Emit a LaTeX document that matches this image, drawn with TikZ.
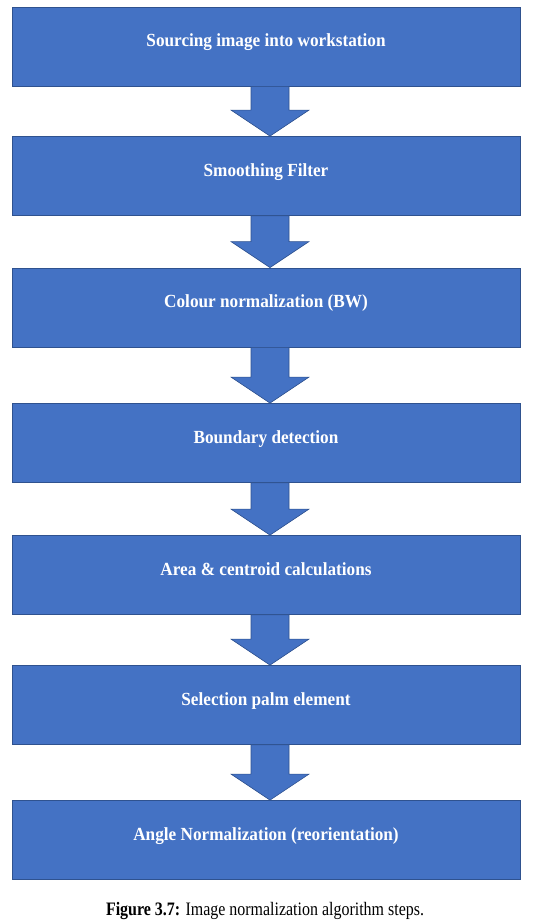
\documentclass[tikz,border=0pt]{standalone}
\usepackage{fontspec}
\setmainfont{Liberation Serif}
\newfontfamily\boxfont[FakeStretch=0.93]{Liberation Serif}
\newfontfamily\capfont[FakeStretch=0.84]{Liberation Serif}
\usetikzlibrary{calc}
\definecolor{officeblue}{HTML}{4472C4}
\definecolor{edgeblue}{HTML}{2F528F}
\tikzset{
  stepbox/.style={rectangle, fill=officeblue, draw=edgeblue, line width=0.8pt,
    minimum width=508pt, minimum height=79pt, inner sep=0pt,
    text height=0pt, text depth=0pt, text=white,
    font=\boxfont\bfseries\fontsize{18.5}{20}\selectfont},
  blockarrow/.style={fill=officeblue, draw=edgeblue, line width=0.6pt, line join=miter}
}
\begin{document}
\begin{tikzpicture}[x=1pt,y=-1pt]
\useasboundingbox[fill=white] (0,0) rectangle (541,920);
\node[stepbox] (s1) at (266,46.5) {Sourcing image into workstation};
\node[stepbox] (s2) at (266,176) {Smoothing Filter};
\node[stepbox] (s3) at (266,307.5) {Colour normalization (BW)};
\node[stepbox] (s4) at (266,443) {Boundary detection};
\node[stepbox] (s5) at (266,575) {Area \& centroid calculations};
\node[stepbox] (s6) at (266,705) {Selection palm element};
\node[stepbox] (s7) at (266,840) {Angle Normalization (reorientation)};
\foreach \a/\b in {s1/s2,s2/s3,s3/s4,s4/s5,s5/s6,s6/s7}{
  \filldraw[blockarrow]
    ($(\a.south)+(-15,0)$) -- ($(\b.north)+(-15,-26)$) -- ($(\b.north)+(-35,-26)$)
    -- ($(\b.north)+(4,0)$) -- ($(\b.north)+(43,-26)$) -- ($(\b.north)+(23,-26)$)
    -- ($(\a.south)+(23,0)$) -- cycle;
}
\node[anchor=base, font=\capfont\fontsize{19}{21}\selectfont] (cap) at (265,915)
  {\textbf{Figure 3.7:} Image normalization algorithm steps.};
\end{tikzpicture}
\end{document}
